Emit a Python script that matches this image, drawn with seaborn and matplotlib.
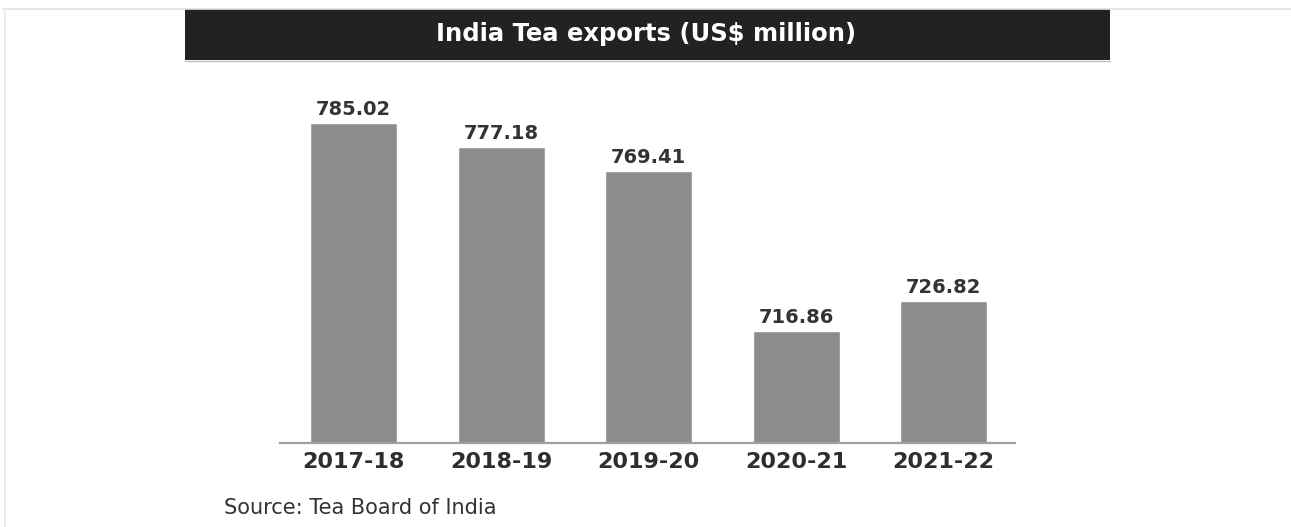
import matplotlib
matplotlib.use("Agg")
import matplotlib.pyplot as plt
import seaborn as sns
import pandas as pd
from matplotlib.patches import Rectangle
from matplotlib.lines import Line2D

# Financial years and export values (US$ million)
years = ["2017-18", "2018-19", "2019-20", "2020-21", "2021-22"]
exports = [785.02, 777.18, 769.41, 716.86, 726.82]

title = "India Tea exports (US$ million)"
source = "Source: Tea Board of India"

df = pd.DataFrame({"year": years, "exports": exports})

sns.set_theme(style="white")
plt.rcParams["font.family"] = ["DejaVu Sans"]

W, H = 1291, 527
fig = plt.figure(figsize=(W / 100, H / 100), dpi=100)
fig.patch.set_facecolor("white")

def fx(px):
    return px / W

def fy(py):
    return 1 - py / H

# thin frame lines at the top and left
fig.add_artist(Line2D([fx(3), fx(1291)], [fy(9), fy(9)], color="#e2e2e2", lw=1.2))
fig.add_artist(Line2D([fx(5), fx(5)], [fy(9), fy(527)], color="#ececec", lw=1.5))

# dark title banner
fig.add_artist(Rectangle((fx(185), fy(60)), fx(1110) - fx(185), fy(9) - fy(60),
                         transform=fig.transFigure, facecolor="#222222",
                         edgecolor="none"))
fig.add_artist(Line2D([fx(185), fx(1110)], [fy(61), fy(61)], color="#bdbdbd", lw=1.0))
fig.text(fx(646), fy(34.5), title, color="white", fontsize=17.5,
         fontweight="bold", ha="center", va="center")

ax = fig.add_axes([fx(280), fy(442.5), fx(1015) - fx(280), (442.5 - 90) / H])
sns.barplot(data=df, x="year", y="exports", color="#8c8c8c", saturation=1,
            width=0.59, ax=ax)
ax.set_ylim(680.27, 795.97)
ax.set_xlim(-0.5, 4.485)

for c in ax.containers:
    ax.bar_label(c, labels=[f"{v:.2f}" for v in exports], padding=3,
                 fontsize=14, fontweight="bold", color="#333333")

for s in ["top", "left", "right"]:
    ax.spines[s].set_visible(False)
ax.spines["bottom"].set_color("#a0a0a0")
ax.spines["bottom"].set_linewidth(1.6)
ax.set_yticks([])
ax.set_xlabel("")
ax.set_ylabel("")
ax.tick_params(axis="x", length=0, pad=7, labelsize=16, labelcolor="#2e2e2e")
for t in ax.get_xticklabels():
    t.set_fontweight("bold")
ax.set_facecolor("white")

fig.text(fx(224), fy(508), source, fontsize=15, color="#333333",
         ha="left", va="center")

fig.savefig("out.png", dpi=100, facecolor="white")
